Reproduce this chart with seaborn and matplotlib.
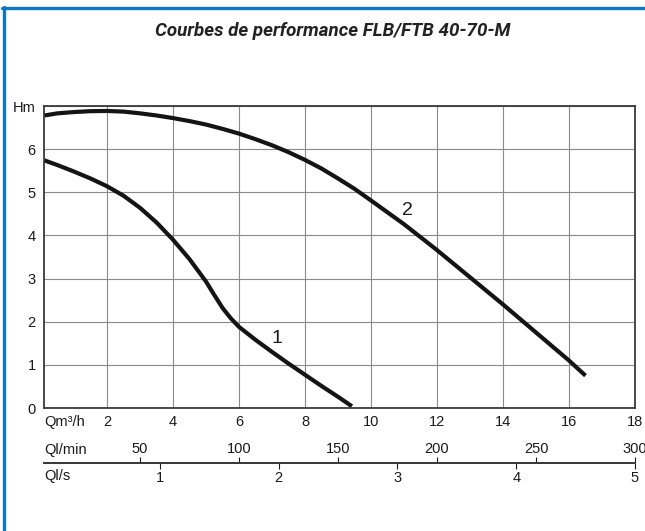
import numpy as np
import pandas as pd
import seaborn as sns
import matplotlib.pyplot as plt
from matplotlib.lines import Line2D

# curve 1 (Q m3/h, H m)
q1 = [0.1, 0.5, 1, 1.5, 2, 2.5, 3, 3.5, 4, 4.5, 5, 5.25, 5.5, 5.75, 6, 6.5, 7, 7.5, 8, 8.5, 9, 9.42]
h1 = [5.74, 5.63, 5.48, 5.32, 5.14, 4.92, 4.64, 4.30, 3.90, 3.45, 2.93, 2.62, 2.32, 2.08, 1.88,
      1.58, 1.30, 1.03, 0.77, 0.51, 0.26, 0.04]
# curve 2
q2 = [0.1, 0.5, 1, 1.5, 2, 2.5, 3, 3.5, 4, 4.5, 5, 5.5, 6, 6.5, 7, 7.5, 8, 8.5, 9, 9.5, 10,
      11, 12, 13, 14, 15, 16, 16.5]
h2 = [6.78, 6.83, 6.86, 6.88, 6.885, 6.87, 6.83, 6.78, 6.72, 6.65, 6.57, 6.47, 6.36, 6.23, 6.09,
      5.93, 5.75, 5.55, 5.32, 5.08, 4.81, 4.26, 3.66, 3.03, 2.40, 1.75, 1.10, 0.75]

xticks = [2, 4, 6, 8, 10, 12, 14, 16, 18]
yticks = [0, 1, 2, 3, 4, 5, 6, 7]
ylabels = ["0", "1", "2", "3", "4", "5", "6", "Hm"]
lmin_ticks = [50, 100, 150, 200, 250, 300]
ls_ticks = [1, 2, 3, 4, 5]

sns.set_style("white")
plt.rcParams['font.family'] = ['Liberation Sans', 'DejaVu Sans']

fig = plt.figure(figsize=(6.45, 5.31), dpi=100)
ax = fig.add_axes([44/645, 1-408/531, 591/645, 302/531])

df1 = pd.DataFrame({"Q": q1, "H": h1})
df2 = pd.DataFrame({"Q": q2, "H": h2})
for d in (df1, df2):
    sns.lineplot(data=d, x="Q", y="H", ax=ax, color="#141414", linewidth=3.0,
                 sort=False, solid_capstyle="butt", solid_joinstyle="round")

ax.set_xlim(0.09, 18)
ax.set_ylim(0, 7)
ax.set_xticks(xticks)
ax.set_yticks(yticks)
ax.set_yticklabels(ylabels)
ax.set_xlabel("")
ax.set_ylabel("")
ax.grid(True, color="#8a8a8a", linewidth=0.8)
ax.tick_params(axis="both", length=0, labelsize=10.5, colors="#1a1a1a")
ax.tick_params(axis="x", pad=5)
ax.tick_params(axis="y", pad=6)
for s in ax.spines.values():
    s.set_color("#3a3a3a")
    s.set_linewidth(1.3)

ax.text(7.15, 1.62, "1", fontsize=14, ha="center", va="center", color="#1a1a1a")
ax.text(11.1, 4.57, "2", fontsize=14, ha="center", va="center", color="#1a1a1a")

# secondary flow scales
loc = (408 - 463) / 302
sec_min = ax.secondary_xaxis(loc, functions=(lambda q: q * 1000 / 60, lambda v: v * 60 / 1000))
sec_min.set_alignment("top")
sec_min.set_xticks(lmin_ticks)
sec_min.tick_params(length=4, width=0.8, direction="out", labelsize=10.5, pad=1, colors="#1a1a1a")
sec_min.spines["top"].set_color("#3a3a3a")
sec_min.spines["top"].set_linewidth(1.3)

sec_s = ax.secondary_xaxis(loc, functions=(lambda q: q / 3.6, lambda v: v * 3.6))
sec_s.set_xticks(ls_ticks)
sec_s.tick_params(length=4, width=0.8, direction="out", labelsize=10.5, pad=2, colors="#1a1a1a")
sec_s.spines["bottom"].set_color("#3a3a3a")
sec_s.spines["bottom"].set_linewidth(1.3)

fig.text(44/645, 1-422/531, "Qm³/h", fontsize=10.5, va="center", ha="left", color="#1a1a1a")
fig.text(44/645, 1-450/531, "Ql/min", fontsize=10.5, va="center", ha="left", color="#1a1a1a")
fig.text(44/645, 1-476/531, "Ql/s", fontsize=10.5, va="center", ha="left", color="#1a1a1a")

fig.text(333/645, 1-36/531, "Courbes de performance FLB/FTB 40-70-M", fontsize=13.5,
         fontweight="bold", fontstyle="italic", family=["Roboto", "DejaVu Sans"],
         ha="center", va="baseline", color="#222222")

# blue frame
fig.add_artist(Line2D([2/645, 1], [1-8/531, 1-8/531], color="#0a78c2", linewidth=2.4,
                      transform=fig.transFigure))
fig.add_artist(Line2D([3.5/645, 3.5/645], [0, 1-7/531], color="#0a78c2", linewidth=2.4,
                      transform=fig.transFigure))

fig.savefig("out.png", dpi=100)
